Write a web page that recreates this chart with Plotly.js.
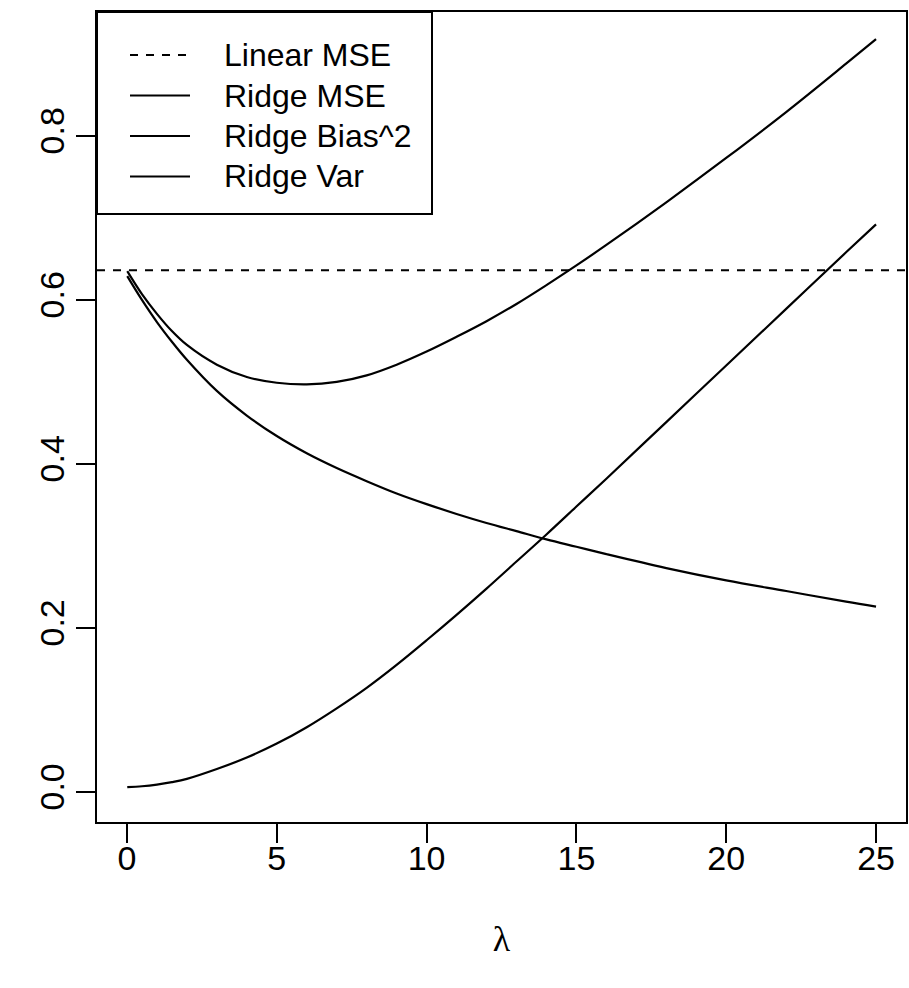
<!DOCTYPE html>
<html>
<head>
<meta charset="utf-8">
<script src="https://cdn.plot.ly/plotly-3.0.1.min.js"></script>
<style>html,body{margin:0;padding:0;background:#fff;}#chart{width:909px;height:988px;}</style>
</head>
<body>
<div id="chart"></div>
<script>
const lambda     = [0.01, 0.5, 1, 1.5, 2, 3, 4, 5, 6, 7, 8, 9, 10, 11, 12, 13, 14, 15, 16, 18, 20, 22, 24, 25];
const ridgeBias2 = [0.006, 0.007, 0.009, 0.012, 0.016, 0.028, 0.042, 0.059, 0.079, 0.102, 0.127, 0.155, 0.185, 0.216, 0.248, 0.281, 0.314, 0.348, 0.382, 0.451, 0.520, 0.589, 0.658, 0.692];
const ridgeVar   = [0.629, 0.600, 0.573, 0.549, 0.527, 0.489, 0.459, 0.434, 0.413, 0.395, 0.379, 0.364, 0.351, 0.339, 0.328, 0.318, 0.308, 0.299, 0.290, 0.273, 0.258, 0.245, 0.232, 0.226];
const ridgeMSE   = [0.635, 0.607, 0.583, 0.562, 0.545, 0.521, 0.506, 0.499, 0.497, 0.500, 0.508, 0.521, 0.537, 0.555, 0.574, 0.595, 0.618, 0.642, 0.667, 0.719, 0.773, 0.829, 0.888, 0.918];
const linearMSE  = 0.636;
const xTicks = [0, 5, 10, 15, 20, 25];
const yTicks = [0.0, 0.2, 0.4, 0.6, 0.8];
const legendLabels = ['Linear MSE', 'Ridge MSE', 'Ridge Bias^2', 'Ridge Var'];
const legendDash = ['8px,8px', 'solid', 'solid', 'solid'];

const xRange = [-1.0, 26.0];
const yRange = [-0.0366, 0.951];

const W = 909, H = 988;
const M = {l: 97, r: 3, t: 12, b: 166};
const pw = W - M.l - M.r, ph = H - M.t - M.b;
const px = x => (x - M.l) / pw;
const py = y => (H - M.b - y) / ph;

const traces = [
  {x: [xRange[0], xRange[1]], y: [linearMSE, linearMSE], line: {color: '#000', width: 2, dash: '8px,8px'}, name: legendLabels[0]},
  {x: lambda, y: ridgeMSE, line: {color: '#000', width: 2.2, shape: 'spline', smoothing: 1}, name: legendLabels[1]},
  {x: lambda, y: ridgeBias2, line: {color: '#000', width: 2.2, shape: 'spline', smoothing: 1}, name: legendLabels[2]},
  {x: lambda, y: ridgeVar, line: {color: '#000', width: 2.2, shape: 'spline', smoothing: 1}, name: legendLabels[3]}
].map(t => Object.assign(t, {mode: 'lines', hoverinfo: 'skip'}));

const shapes = [
  {type: 'rect', xref: 'paper', yref: 'paper', x0: px(97), x1: px(432), y0: py(214), y1: py(12), line: {color: '#000', width: 2}, fillcolor: '#fff', layer: 'above'}
];
const annotations = [];
const rowY = [55, 95.5, 136, 176.5];
legendLabels.forEach((lab, i) => {
  shapes.push({type: 'line', xref: 'paper', yref: 'paper', x0: px(130), x1: px(190), y0: py(rowY[i]), y1: py(rowY[i]), line: {color: '#000', width: 2, dash: legendDash[i]}, layer: 'above'});
  annotations.push({xref: 'paper', yref: 'paper', x: px(222), y: py(rowY[i]), xanchor: 'left', yanchor: 'middle', text: lab, showarrow: false, font: {family: 'Liberation Sans, Arial, sans-serif', size: 32, color: '#000'}});
});

const axisCommon = {
  showgrid: false, zeroline: false, showline: true, linecolor: '#000', linewidth: 2, mirror: true,
  ticks: 'outside', ticklen: 19, tickwidth: 2, tickcolor: '#000',
  tickfont: {family: 'Liberation Sans, Arial, sans-serif', size: 34, color: '#000'}
};

const layout = {
  width: W, height: H, margin: M,
  paper_bgcolor: '#fff', plot_bgcolor: '#fff', showlegend: false,
  xaxis: Object.assign({}, axisCommon, {range: xRange, tickvals: xTicks, ticktext: xTicks.map(String), ticklabelstandoff: -14,
    title: {text: 'λ', font: {family: 'Liberation Serif, Times New Roman, serif', size: 36, color: '#000'}, standoff: 50}}),
  yaxis: Object.assign({}, axisCommon, {range: yRange, tickvals: yTicks, ticktext: yTicks.map(v => v.toFixed(1)), tickangle: -90, ticklabelstandoff: -2}),
  shapes: shapes, annotations: annotations
};

Plotly.newPlot('chart', traces, layout, {displayModeBar: false, staticPlot: true});
</script>
</body>
</html>
